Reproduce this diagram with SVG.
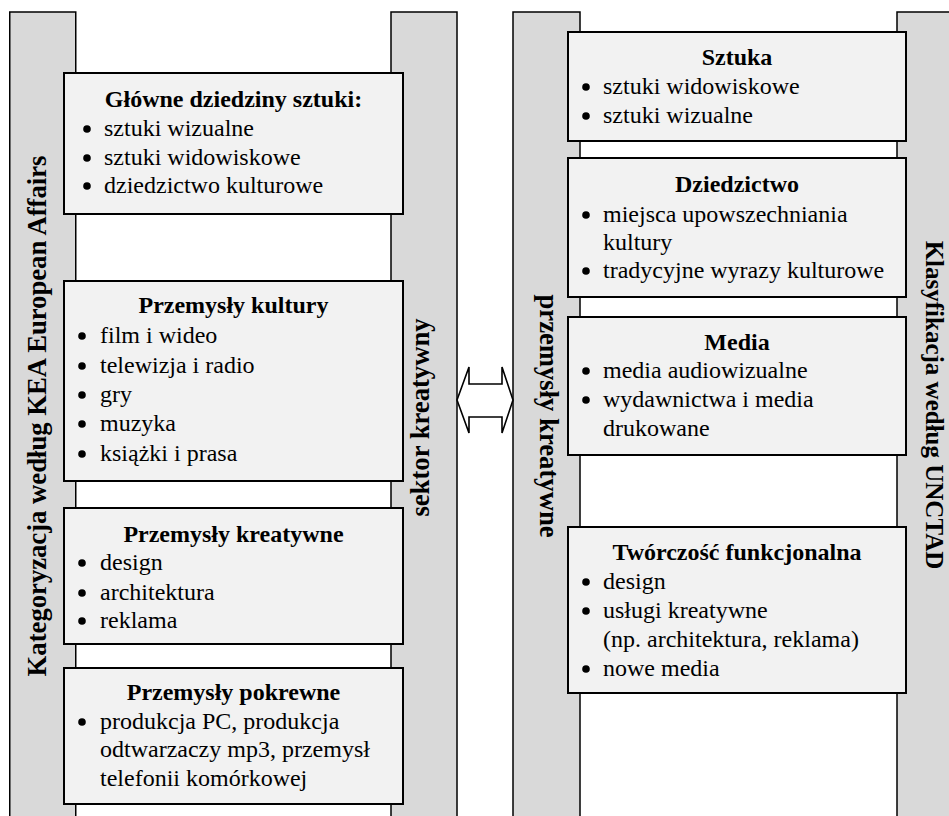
<svg xmlns="http://www.w3.org/2000/svg" width="949" height="816" viewBox="0 0 949 816">
<style>
.col{fill:#d9d9d9;stroke:#000;stroke-width:1.5}
.box{fill:#f2f2f2;stroke:#000;stroke-width:2}
.t{font-family:"Liberation Serif","Times New Roman",serif;font-size:24px;fill:#000}
.h{font-weight:bold;text-anchor:middle}
.v{font-family:"Liberation Serif","Times New Roman",serif;font-size:26.67px;font-weight:bold;text-anchor:middle;fill:#000}
.d{fill:#000}
.arr{fill:#fff;stroke:#000;stroke-width:1.6;stroke-linejoin:miter}
</style>
<rect width="949" height="816" fill="#fff"/>
<g id="kea-frame">
<rect class="col" x="9.75" y="12" width="66" height="830"/>
<rect class="col" x="391" y="12" width="66" height="830"/>
<text class="v" transform="translate(46,416) rotate(-90)">Kategoryzacja według KEA European Affairs</text>
<text class="v" transform="translate(429,417.5) rotate(-90)">sektor kreatywny</text>
</g>
<g id="unctad-frame">
<rect class="col" x="513" y="12" width="67" height="830"/>
<rect class="col" x="897" y="12" width="70" height="830"/>
<text class="v" transform="translate(540,416) rotate(90)">przemysły kreatywne</text>
<text class="v" style="font-size:25px" transform="translate(926,405) rotate(90)">Klasyfikacja według UNCTAD</text>
</g>
<g id="glowne">
<rect class="box" x="64" y="73" width="339" height="141"/>
<text class="t h" x="233.5" y="107">Główne dziedziny sztuki:</text>
<circle class="d" cx="87" cy="129" r="3.8"/><text class="t" x="104" y="136">sztuki wizualne</text>
<circle class="d" cx="87" cy="158" r="3.8"/><text class="t" x="104" y="165">sztuki widowiskowe</text>
<circle class="d" cx="87" cy="186" r="3.8"/><text class="t" x="104" y="193">dziedzictwo kulturowe</text>
</g>
<g id="przemysly-kultury">
<rect class="box" x="64" y="281" width="339" height="200"/>
<text class="t h" x="233.5" y="313">Przemysły kultury</text>
<circle class="d" cx="82" cy="336" r="3.8"/><text class="t" x="100" y="343">film i wideo</text>
<circle class="d" cx="82" cy="366" r="3.8"/><text class="t" x="100" y="373">telewizja i radio</text>
<circle class="d" cx="82" cy="395" r="3.8"/><text class="t" x="100" y="402">gry</text>
<circle class="d" cx="82" cy="424" r="3.8"/><text class="t" x="100" y="431">muzyka</text>
<circle class="d" cx="82" cy="454" r="3.8"/><text class="t" x="100" y="461">książki i prasa</text>
</g>
<g id="przemysly-kreatywne">
<rect class="box" x="64" y="508" width="339" height="136"/>
<text class="t h" x="233.5" y="542">Przemysły kreatywne</text>
<circle class="d" cx="82" cy="563" r="3.8"/><text class="t" x="100" y="570">design</text>
<circle class="d" cx="82" cy="593" r="3.8"/><text class="t" x="100" y="600">architektura</text>
<circle class="d" cx="82" cy="621" r="3.8"/><text class="t" x="100" y="628">reklama</text>
</g>
<g id="przemysly-pokrewne">
<rect class="box" x="64" y="668" width="339" height="136"/>
<text class="t h" x="233.5" y="700">Przemysły pokrewne</text>
<circle class="d" cx="82" cy="722" r="3.8"/><text class="t" x="100" y="729">produkcja PC, produkcja</text>
<text class="t" x="100" y="757">odtwarzaczy mp3, przemysł</text>
<text class="t" x="100" y="786">telefonii komórkowej</text>
</g>
<g id="sztuka">
<rect class="box" x="568" y="32" width="338" height="109"/>
<text class="t h" x="737" y="65">Sztuka</text>
<circle class="d" cx="586" cy="87" r="3.8"/><text class="t" x="603" y="94">sztuki widowiskowe</text>
<circle class="d" cx="586" cy="116" r="3.8"/><text class="t" x="603" y="123">sztuki wizualne</text>
</g>
<g id="dziedzictwo">
<rect class="box" x="568" y="158" width="338" height="139"/>
<text class="t h" x="737" y="192">Dziedzictwo</text>
<circle class="d" cx="586" cy="215" r="3.8"/><text class="t" x="603" y="222">miejsca upowszechniania</text>
<text class="t" x="603" y="250">kultury</text>
<circle class="d" cx="586" cy="271" r="3.8"/><text class="t" x="603" y="278">tradycyjne wyrazy kulturowe</text>
</g>
<g id="media">
<rect class="box" x="568" y="317" width="338" height="138"/>
<text class="t h" x="737" y="350">Media</text>
<circle class="d" cx="586" cy="371" r="3.8"/><text class="t" x="603" y="378">media audiowizualne</text>
<circle class="d" cx="586" cy="400" r="3.8"/><text class="t" x="603" y="407">wydawnictwa i media</text>
<text class="t" x="603" y="436">drukowane</text>
</g>
<g id="tworczosc">
<rect class="box" x="568" y="527" width="338" height="166"/>
<text class="t h" x="737" y="560">Twórczość funkcjonalna</text>
<circle class="d" cx="586" cy="582" r="3.8"/><text class="t" x="603" y="589">design</text>
<circle class="d" cx="586" cy="611" r="3.8"/><text class="t" x="603" y="618">usługi kreatywne</text>
<text class="t" x="603" y="647">(np. architektura, reklama)</text>
<circle class="d" cx="586" cy="669" r="3.8"/><text class="t" x="603" y="676">nowe media</text>
</g>
<g id="connectors">
<polygon class="arr" points="457,400 469,367 469,384 502,384 502,367 513,400 502,433 502,417 469,417 469,433"/>
</g>
</svg>
